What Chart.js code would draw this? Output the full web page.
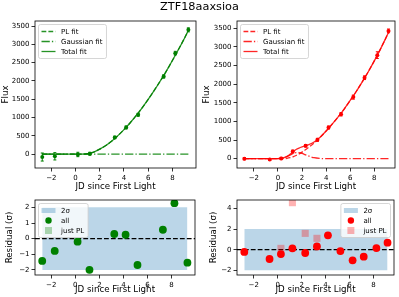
<!DOCTYPE html>
<html>
<head>
<meta charset="utf-8">
<title>ZTF18aaxsioa</title>
<script src="https://cdn.jsdelivr.net/npm/chart.js@4.4.1/dist/chart.umd.min.js"></script>
<style>
  html, body { margin: 0; padding: 0; background: #fff; }
  #fig { position: relative; width: 399px; height: 297px; overflow: hidden; }
  #fig canvas { position: absolute; left: 0; top: 0; }
  #title { position: absolute; left: 0; top: 0; width: 399px; text-align: center;
           font: 11.3px/13px "DejaVu Sans", sans-serif; color: #000; }
</style>
</head>
<body>
<div id="fig">
  <canvas id="fluxG" width="399" height="297"></canvas>
  <canvas id="fluxR" width="399" height="297"></canvas>
  <canvas id="resG" width="399" height="297"></canvas>
  <canvas id="resR" width="399" height="297"></canvas>
  <div id="title">ZTF18aaxsioa</div>
</div>
<script>
// g band (left column)
const gDays = [-2.75, -1.71, 0.19, 1.18, 3.24, 4.18, 5.17, 7.28, 8.24, 9.32];
const gFlux = [-80, -60, -10, 10, 457, 730, 1075, 2124, 2761, 3398];
const gFluxErr = [110, 100, 60, 40, 35, 40, 40, 45, 50, 55];
const gResid = [-1.42, -0.78, -0.19, -1.99, 0.30, 0.25, -1.68, 0.57, 2.27, -1.53];
const gFitDays = [-2.75, -1, 0, 0.5, 1, 1.5, 2, 2.5, 3, 3.5, 4, 4.5, 5, 5.5, 6, 6.5, 7, 7.5, 8, 8.5, 9, 9.32];
const gPL = [0, 0, 0, 0, 10, 55, 135, 235, 360, 505, 670, 850, 1050, 1265, 1495, 1740, 2000, 2270, 2560, 2860, 3170, 3380];
const gGauss = [0, 0, 0, 0, 0, 0, 0, 0, 0, 0, 0, 0, 0, 0, 0, 0, 0, 0, 0, 0, 0, 0];
const gTotal = [0, 0, 0, 0, 10, 55, 135, 235, 360, 505, 670, 850, 1050, 1265, 1495, 1740, 2000, 2270, 2560, 2860, 3170, 3380];

// r band (right column)
const rDays = [-2.79, -0.68, 0.27, 1.23, 2.30, 3.28, 4.20, 5.24, 6.26, 7.19, 8.25, 9.18];
const rFlux = [0, -20, 5, 190, 345, 505, 835, 1190, 1650, 2170, 2775, 3425];
const rFluxErr = [30, 25, 30, 40, 35, 40, 40, 45, 55, 50, 90, 50];
const rResid = [-0.22, -0.90, -0.42, 0.13, -0.32, 0.32, 1.39, -0.13, -1.03, -0.68, 0.16, 0.68];
const rPLDays = [0.27, 1.23, 2.30, 3.28];
const rPLResid = [0.13, 4.55, 1.58, 1.10];
const rFitDays = [-2.79, -1, 0, 0.5, 0.75, 1, 1.25, 1.5, 1.75, 2, 2.25, 2.5, 3, 3.5, 4, 4.5, 5, 5.5, 6, 6.5, 7, 7.5, 8, 8.5, 9, 9.18];
const rPL = [0, 0, 0, 0, 8, 25, 50, 85, 125, 175, 230, 290, 420, 570, 740, 925, 1120, 1330, 1560, 1800, 2060, 2330, 2620, 2930, 3260, 3380];
const rGauss = [0, 0, 3, 25, 55, 95, 135, 160, 160, 140, 110, 78, 25, 6, 1, 0, 0, 0, 0, 0, 0, 0, 0, 0, 0, 0];
const rTotal = [0, 0, 3, 25, 63, 120, 185, 245, 285, 315, 340, 368, 445, 576, 741, 925, 1120, 1330, 1560, 1800, 2060, 2330, 2620, 2930, 3260, 3380];

// ticks
const xTicks = [-2, 0, 2, 4, 6, 8];
const fluxTicks = [0, 500, 1000, 1500, 2000, 2500, 3000, 3500];
const gResTicks = [-2, -1, 0, 1, 2];
const rResTicks = [-2, 0, 2, 4];
const sigmaBand = [-2, 2];

Chart.defaults.font.family = '"DejaVu Sans", sans-serif';
Chart.defaults.color = '#000';

const tickFont = { size: 7 };
const labelFont = { size: 8.7 };
const DASH = [4.8, 2.1];
const DASHDOT = [8.3, 2.1, 1.3, 2.1];
const GREEN = 'green', GREEN_LINE = 'rgba(0,128,0,0.85)';
const RED = 'red', RED_LINE = 'rgba(255,0,0,0.85)';
const BAND = 'rgba(31,119,180,0.3)';

const fmt = v => (v < 0 ? '\u2212' + Math.abs(v) : String(v));
const pts = (xs, ys) => xs.map((x, i) => ({ x, y: ys[i] }));

function axis(min, max, ticks, size, text, titlePad) {
  return {
    type: 'linear', min, max,
    afterBuildTicks: s => { s.ticks = ticks.map(v => ({ value: v })); },
    afterFit: s => { if (s.isHorizontal()) s.height = size; else s.width = size; },
    grid: { drawOnChartArea: false, tickLength: 3.5, tickWidth: 0.8, tickColor: '#000' },
    border: { display: false },
    ticks: { font: tickFont, color: '#000', padding: 2, maxRotation: 0, autoSkip: false, callback: fmt },
    title: { display: true, text, font: labelFont, color: '#000', padding: titlePad }
  };
}

function baseOpts(padding, x, y) {
  return {
    responsive: false, animation: false, devicePixelRatio: 1,
    layout: { padding },
    plugins: { legend: { display: false }, tooltip: { enabled: false } },
    scales: { x, y }
  };
}

function fitLine(xs, ys, color, dash) {
  return { data: pts(xs, ys), borderColor: color, borderWidth: 1.3, borderDash: dash || [],
           pointRadius: 0, cubicInterpolationMode: 'monotone', fill: false };
}

// box around the axes, like matplotlib spines
Chart.register({
  id: 'frame',
  afterDraw(chart) {
    const { ctx, chartArea: a } = chart;
    ctx.save();
    ctx.strokeStyle = '#000';
    ctx.lineWidth = 0.8;
    ctx.strokeRect(a.left, a.top, a.right - a.left, a.bottom - a.top);
    ctx.restore();
  }
});

const errorBars = {
  id: 'errorBars',
  afterDatasetsDraw(chart) {
    const ctx = chart.ctx, xs = chart.scales.x, ys = chart.scales.y;
    chart.data.datasets.forEach(ds => {
      if (!ds.errors) return;
      ctx.save();
      ctx.strokeStyle = ds.borderColor;
      ctx.lineWidth = 1;
      ds.data.forEach((p, i) => {
        const px = xs.getPixelForValue(p.x);
        const top = ys.getPixelForValue(p.y + ds.errors[i]);
        const bot = ys.getPixelForValue(p.y - ds.errors[i]);
        ctx.beginPath();
        ctx.moveTo(px, top); ctx.lineTo(px, bot);
        ctx.moveTo(px - 1.5, top); ctx.lineTo(px + 1.5, top);
        ctx.moveTo(px - 1.5, bot); ctx.lineTo(px + 1.5, bot);
        ctx.stroke();
      });
      ctx.restore();
    });
  }
};

function mplLegend(corner, items) {
  return {
    id: 'mplLegend',
    afterDraw(chart) {
      const ctx = chart.ctx, a = chart.chartArea;
      ctx.save();
      ctx.font = '7px "DejaVu Sans"';
      const rowH = 10, pad = 3, hLen = 14, gap = 5.5;
      const tw = Math.max(...items.map(it => ctx.measureText(it.label).width));
      const w = pad + hLen + gap + tw + 4, h = 4 + rowH * items.length;
      const x0 = corner === 'ur' ? a.right - 3.5 - w : a.left + 3.5;
      const y0 = a.top + 3.5;
      ctx.beginPath();
      ctx.roundRect(x0, y0, w, h, 2);
      ctx.fillStyle = 'rgba(255,255,255,0.8)';
      ctx.fill();
      ctx.strokeStyle = '#ccc';
      ctx.lineWidth = 0.8;
      ctx.stroke();
      items.forEach((it, i) => {
        const cy = y0 + 2 + rowH * (i + 0.5);
        const hx = x0 + pad, hc = hx + hLen / 2;
        ctx.fillStyle = it.color;
        ctx.strokeStyle = it.color;
        if (it.kind === 'line') {
          ctx.setLineDash(it.dash);
          ctx.lineWidth = 1.3;
          ctx.beginPath(); ctx.moveTo(hx, cy); ctx.lineTo(hx + hLen, cy); ctx.stroke();
          ctx.setLineDash([]);
        } else if (it.kind === 'patch') {
          ctx.fillRect(hx, cy - 2.5, hLen, 5);
        } else if (it.kind === 'circle') {
          ctx.beginPath(); ctx.arc(hc, cy, 3.2, 0, Math.PI * 2); ctx.fill();
        } else if (it.kind === 'square') {
          ctx.fillRect(hc - 3.5, cy - 3.5, 7, 7);
        }
        ctx.fillStyle = '#000';
        ctx.textBaseline = 'middle';
        ctx.fillText(it.label, hx + hLen + gap, cy + 0.5);
      });
      ctx.restore();
    }
  };
}

const xTitlePad = { top: 0, bottom: 1.8 };

// top left: g flux
new Chart(document.getElementById('fluxG'), {
  type: 'line',
  data: { datasets: [
    { data: pts(gDays, gFlux), errors: gFluxErr, showLine: false, pointRadius: 2, pointBorderWidth: 0,
      borderColor: GREEN, backgroundColor: GREEN },
    fitLine(gFitDays, gTotal, GREEN_LINE),
    fitLine(gFitDays, gGauss, GREEN_LINE, DASHDOT),
    fitLine(gFitDays, gPL, GREEN_LINE, DASH)
  ]},
  options: baseOpts({ left: 0, top: 21, right: 203, bottom: 103 },
    axis(-3.35, 9.95, xTicks, 26, 'JD since First Light', xTitlePad),
    axis(-380, 3640, fluxTicks, 35, 'Flux', { top: 1, bottom: 0 })),
  plugins: [errorBars, mplLegend('ul', [
    { kind: 'line', dash: DASH, color: GREEN_LINE, label: 'PL fit' },
    { kind: 'line', dash: DASHDOT, color: GREEN_LINE, label: 'Gaussian fit' },
    { kind: 'line', dash: [], color: GREEN_LINE, label: 'Total fit' }
  ])]
});

// top right: r flux
new Chart(document.getElementById('fluxR'), {
  type: 'line',
  data: { datasets: [
    { data: pts(rDays, rFlux), errors: rFluxErr, showLine: false, pointRadius: 2, pointBorderWidth: 0,
      borderColor: RED, backgroundColor: RED },
    fitLine(rFitDays, rTotal, RED_LINE),
    fitLine(rFitDays, rGauss, RED_LINE, DASHDOT),
    fitLine(rFitDays, rPL, RED_LINE, DASH)
  ]},
  options: baseOpts({ left: 200, top: 21, right: 2, bottom: 103 },
    axis(-3.4, 9.72, xTicks, 26, 'JD since First Light', xTitlePad),
    axis(-250, 3690, fluxTicks, 37, 'Flux', { top: 1.8, bottom: 0 })),
  plugins: [errorBars, mplLegend('ul', [
    { kind: 'line', dash: DASH, color: RED_LINE, label: 'PL fit' },
    { kind: 'line', dash: DASHDOT, color: RED_LINE, label: 'Gaussian fit' },
    { kind: 'line', dash: [], color: RED_LINE, label: 'Total fit' }
  ])]
});

// bottom left: g residuals
new Chart(document.getElementById('resG'), {
  type: 'line',
  data: { datasets: [
    { data: pts(gDays, gResid), showLine: false, pointRadius: 3.9, pointBorderWidth: 0,
      borderColor: GREEN, backgroundColor: GREEN },
    { data: [{ x: -3.35, y: 0 }, { x: 9.95, y: 0 }], borderColor: '#000', borderWidth: 1.3,
      borderDash: DASH, pointRadius: 0 },
    { data: [{ x: gDays[0], y: sigmaBand[1] }, { x: gDays[gDays.length - 1], y: sigmaBand[1] }],
      fill: { value: sigmaBand[0] }, backgroundColor: BAND, borderWidth: 0, pointRadius: 0 }
  ]},
  options: baseOpts({ left: 0, top: 200, right: 204, bottom: 0 },
    axis(-3.35, 9.95, xTicks, 22, 'JD since First Light', xTitlePad),
    axis(-2.32, 2.47, gResTicks, 35, 'Residual (\u03c3)', { top: 5, bottom: 0 })),
  plugins: [mplLegend('ul', [
    { kind: 'patch', color: BAND, label: '2\u03c3' },
    { kind: 'circle', color: GREEN, label: 'all' },
    { kind: 'square', color: 'rgba(0,128,0,0.3)', label: 'just PL' }
  ])]
});

// bottom right: r residuals
new Chart(document.getElementById('resR'), {
  type: 'line',
  data: { datasets: [
    { data: pts(rPLDays, rPLResid), showLine: false, pointStyle: 'rect', pointRadius: 5, pointBorderWidth: 0,
      borderColor: 'rgba(255,0,0,0.3)', backgroundColor: 'rgba(255,0,0,0.3)' },
    { data: pts(rDays, rResid), showLine: false, pointRadius: 3.9, pointBorderWidth: 0,
      borderColor: RED, backgroundColor: RED },
    { data: [{ x: -3.4, y: 0 }, { x: 9.72, y: 0 }], borderColor: '#000', borderWidth: 1.3,
      borderDash: DASH, pointRadius: 0 },
    { data: [{ x: rDays[0], y: sigmaBand[1] }, { x: rDays[rDays.length - 1], y: sigmaBand[1] }],
      fill: { value: sigmaBand[0] }, backgroundColor: BAND, borderWidth: 0, pointRadius: 0 }
  ]},
  options: baseOpts({ left: 200, top: 200, right: 2, bottom: 0 },
    axis(-3.4, 9.72, xTicks, 22, 'JD since First Light', xTitlePad),
    axis(-2.45, 4.81, rResTicks, 37, 'Residual (\u03c3)', { top: 8.8, bottom: 0 })),
  plugins: [mplLegend('ur', [
    { kind: 'patch', color: BAND, label: '2\u03c3' },
    { kind: 'circle', color: RED, label: 'all' },
    { kind: 'square', color: 'rgba(255,0,0,0.3)', label: 'just PL' }
  ])]
});
</script>
</body>
</html>
